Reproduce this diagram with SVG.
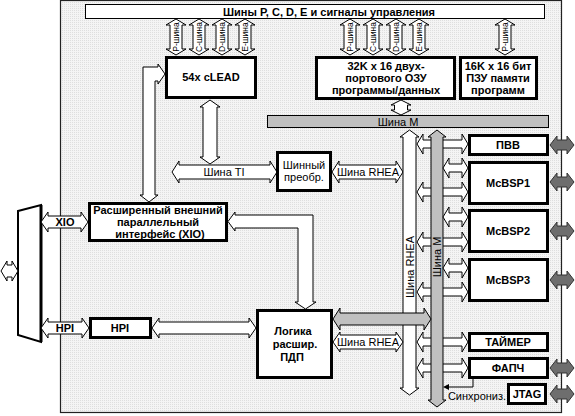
<svg xmlns="http://www.w3.org/2000/svg" xmlns:xlink="http://www.w3.org/1999/xlink" width="575" height="416" viewBox="0 0 575 416">
<defs>
<pattern id="dots" width="2" height="2" patternUnits="userSpaceOnUse">
<rect width="2" height="2" fill="#f4f4f4"/>
<rect width="1" height="1" fill="#dedede"/>
</pattern>
<path id="pa" d="M417 0 L423 -10 L423 -4 L462 -4 L462 -10 L468 0 L462 10 L462 4 L423 4 L423 10 Z"/>
<path id="pm" d="M443 0 L449 -10 L449 -4 L462 -4 L462 -10 L468 0 L462 10 L462 4 L449 4 L449 10 Z"/>
<path id="ga" d="M550 0 L557 -9 L557 -5 L567 -5 L567 -9 L574 0 L567 9 L567 5 L557 5 L557 9 Z"/>
<path id="sa" d="M0 19 L10 25 L6 25 L6 49 L10 49 L0 55 L-10 49 L-6 49 L-6 25 L-10 25 Z"/>
</defs>
<style>
.box{fill:#fff;stroke:#000;stroke-width:3}
.arr{fill:#fff;stroke:#000;stroke-width:1}
.garr{fill:#c0c0c0;stroke:#000;stroke-width:1}
.darr{fill:#6e6e6e;stroke:#333;stroke-width:1}
.b{font-family:"Liberation Sans",Arial,sans-serif;font-weight:bold;font-size:11px;text-anchor:middle;fill:#000}
.r{font-family:"Liberation Sans",Arial,sans-serif;font-size:11px;text-anchor:middle;fill:#000}
.s{font-family:"Liberation Sans",Arial,sans-serif;font-size:8.5px;text-anchor:middle;fill:#000}
</style>
<rect width="575" height="416" fill="#fff"/>
<rect id="chip" x="60.5" y="0.5" width="501" height="412" fill="url(#dots)" stroke="#222" stroke-width="1.2"/>

<g id="bus-top">
<rect x="85.5" y="4.5" width="459" height="14" fill="#fff" stroke="#000"/>
<text class="b" x="329" y="15.5">Шины P, C, D, E и сигналы управления</text>
</g>

<g id="connectors">
<!-- small bus arrows -->
<use xlink:href="#sa" x="176" class="arr"/>
<use xlink:href="#sa" x="199" class="arr"/>
<use xlink:href="#sa" x="222" class="arr"/>
<use xlink:href="#sa" x="245" class="arr"/>
<use xlink:href="#sa" x="350" class="arr"/>
<use xlink:href="#sa" x="373" class="arr"/>
<use xlink:href="#sa" x="396" class="arr"/>
<use xlink:href="#sa" x="419" class="arr"/>
<use xlink:href="#sa" x="505" class="arr"/>
<g class="s">
<text transform="translate(179,37) rotate(-90)">P-шина</text>
<text transform="translate(202,37) rotate(-90)">C-шина</text>
<text transform="translate(225,37) rotate(-90)">D-шина</text>
<text transform="translate(248,37) rotate(-90)">E-шина</text>
<text transform="translate(353,37) rotate(-90)">P-шина</text>
<text transform="translate(376,37) rotate(-90)">C-шина</text>
<text transform="translate(399,37) rotate(-90)">D-шина</text>
<text transform="translate(422,37) rotate(-90)">E-шина</text>
<text transform="translate(508,37) rotate(-90)">P-шина</text>
</g>
<!-- external left -->
<polygon points="18,211 41,205 41,342 18,335" fill="#fff" stroke="#000" stroke-width="2"/>
<line x1="41" y1="205" x2="41" y2="342" stroke="#000" stroke-width="3"/>
<path class="arr" d="M1 271 L7 261 L7 265 L12 265 L12 261 L18 271 L12 281 L12 277 L7 277 L7 281 Z"/>
<path class="arr" d="M41 222 L48 212 L48 216 L81 216 L81 212 L88 222 L81 232 L81 228 L48 228 L48 232 Z"/>
<text class="b" x="65" y="226">XIO</text>
<path class="arr" d="M41 328 L48 318 L48 322 L82 322 L82 318 L89 328 L82 338 L82 334 L48 334 L48 338 Z"/>
<text class="b" x="65" y="332">HPI</text>
<!-- HPI to DMA -->
<path class="arr" d="M152 328 L159 318 L159 322 L249 322 L249 318 L256 328 L249 338 L249 334 L159 334 L159 338 Z"/>
<!-- L arrows -->
<path class="arr" d="M149 202 L140 195 L143 195 L143 67 L158 67 L158 64 L165 74 L158 84 L158 81 L155 81 L155 195 L158 195 Z"/>
<path class="arr" d="M228 221.5 L235 212 L235 215 L313 215 L313 302 L316 302 L305.5 309 L295 302 L298 302 L298 228 L235 228 L235 231 Z"/>
<!-- cLEAD to TI -->
<path class="arr" d="M210 100 L220 107 L217 107 L217 157 L220 157 L210 164 L200 157 L203 157 L203 107 L200 107 Z"/>
<path class="arr" d="M172 172 L179 161 L179 165 L270 165 L270 161 L277 172 L270 183 L270 179 L179 179 L179 183 Z"/>
<text class="r" x="224" y="176">Шина TI</text>
<path class="arr" d="M332 172 L339 161 L339 165 L396 165 L396 161 L403 172 L396 183 L396 179 L339 179 L339 183 Z"/>
<text class="r" x="368" y="176">Шина RHEA</text>
<!-- 32K to bus M -->
<path class="arr" d="M401 100 L411 105 L407.5 105 L407.5 110 L411 110 L401 115 L391 110 L394.5 110 L394.5 105 L391 105 Z"/>
<!-- Bus M horizontal -->
<rect x="267.5" y="115.5" width="281" height="12" fill="#c0c0c0" stroke="#000"/>
<text class="r" x="398" y="125.5">Шина M</text>
<!-- RHEA vertical -->
<path class="arr" d="M409.5 130 L419 137 L416 137 L416 388 L419 388 L409.5 395 L400 388 L403 388 L403 137 L400 137 Z"/>
<text class="r" transform="translate(413.5,267) rotate(-90)">Шина RHEA</text>
<!-- periph arrows from RHEA -->
<use xlink:href="#pa" y="144" class="arr"/>
<use xlink:href="#pa" y="192" class="arr"/>
<use xlink:href="#pa" y="242" class="arr"/>
<use xlink:href="#pa" y="292" class="arr"/>
<use xlink:href="#pa" y="342" class="arr"/>
<use xlink:href="#pa" y="368" class="arr"/>
<!-- M vertical -->
<path class="garr" d="M437 130 L446 137 L443 137 L443 400 L446 400 L437 407 L428 400 L431 400 L431 137 L428 137 Z"/>
<text class="r" transform="translate(441,257) rotate(-90)">Шина M</text>
<use xlink:href="#pm" y="168" class="arr"/>
<use xlink:href="#pm" y="217" class="arr"/>
<use xlink:href="#pm" y="268" class="arr"/>
<!-- DMA arrows -->
<path class="garr" d="M333 319 L340 308 L340 313 L424 313 L424 308 L431 319 L424 330 L424 325 L340 325 L340 330 Z"/>
<path class="arr" d="M333 342 L340 332 L340 335 L396 335 L396 332 L403 342 L396 352 L396 349 L340 349 L340 352 Z"/>
<text class="r" x="368" y="346">Шина RHEA</text>
<!-- external gray -->
<use xlink:href="#ga" y="145" class="darr"/>
<use xlink:href="#ga" y="182" class="darr"/>
<use xlink:href="#ga" y="231" class="darr"/>
<use xlink:href="#ga" y="280" class="darr"/>
<use xlink:href="#ga" y="368" class="darr"/>
<use xlink:href="#ga" y="394" class="darr"/>
<!-- sync -->
<polyline points="473,379 473,387 448,387" fill="none" stroke="#000"/>
<polygon points="443,387 449,384 449,390" fill="#000"/>
<text class="r" x="477" y="400">Синхрониз.</text>
</g>

<g id="clead"><rect class="box" x="166.5" y="57.5" width="89" height="40"/><text class="b" x="211" y="81">54x cLEAD</text></g>
<g id="ram"><rect class="box" x="316.5" y="57.5" width="138" height="41"/>
<text class="b" x="386" y="70">32K x 16 двух-</text><text class="b" x="386" y="82">портового ОЗУ</text><text class="b" x="386" y="94">программы/данных</text></g>
<g id="rom"><rect class="box" x="460.5" y="57.5" width="76" height="41"/>
<text class="b" x="498" y="70">16K x 16 бит</text><text class="b" x="498" y="82">ПЗУ памяти</text><text class="b" x="498" y="94">программ</text></g>
<g id="conv"><rect class="box" x="277.5" y="152.5" width="53" height="38"/>
<text class="r" x="304" y="169">Шинный</text><text class="r" x="304" y="181">преобр.</text></g>
<g id="xio"><rect class="box" x="89.5" y="203.5" width="137" height="37"/>
<text class="b" x="158" y="214">Расширенный внешний</text><text class="b" x="158" y="226">параллельный</text><text class="b" x="160" y="238">интерфейс (XIO)</text></g>
<g id="hpi"><rect class="box" x="90.5" y="318.5" width="60" height="19"/><text class="b" x="120" y="332">HPI</text></g>
<g id="dma"><rect class="box" x="257.5" y="310.5" width="74" height="67"/>
<text class="b" x="293" y="335">Логика</text><text class="b" x="295" y="348">расшир.</text><text class="b" x="292" y="361">ПДП</text></g>
<g id="pvv"><rect class="box" x="469.5" y="135.5" width="78" height="19"/><text class="b" x="508" y="149">ПВВ</text></g>
<g id="mcbsp1"><rect class="box" x="469.5" y="162.5" width="78" height="41"/><text class="b" x="508" y="187">McBSP1</text></g>
<g id="mcbsp2"><rect class="box" x="469.5" y="210.5" width="78" height="41"/><text class="b" x="508" y="235">McBSP2</text></g>
<g id="mcbsp3"><rect class="box" x="469.5" y="259.5" width="78" height="41"/><text class="b" x="508" y="284">McBSP3</text></g>
<g id="timer"><rect class="box" x="469.5" y="333.5" width="78" height="17"/><text class="b" x="508" y="346">ТАЙМЕР</text></g>
<g id="pll"><rect class="box" x="469.5" y="358.5" width="78" height="19"/><text class="b" x="508" y="372">ФАПЧ</text></g>
<g id="jtag"><rect class="box" x="508.5" y="384.5" width="37" height="19"/><text class="b" x="527" y="398">JTAG</text></g>
</svg>
